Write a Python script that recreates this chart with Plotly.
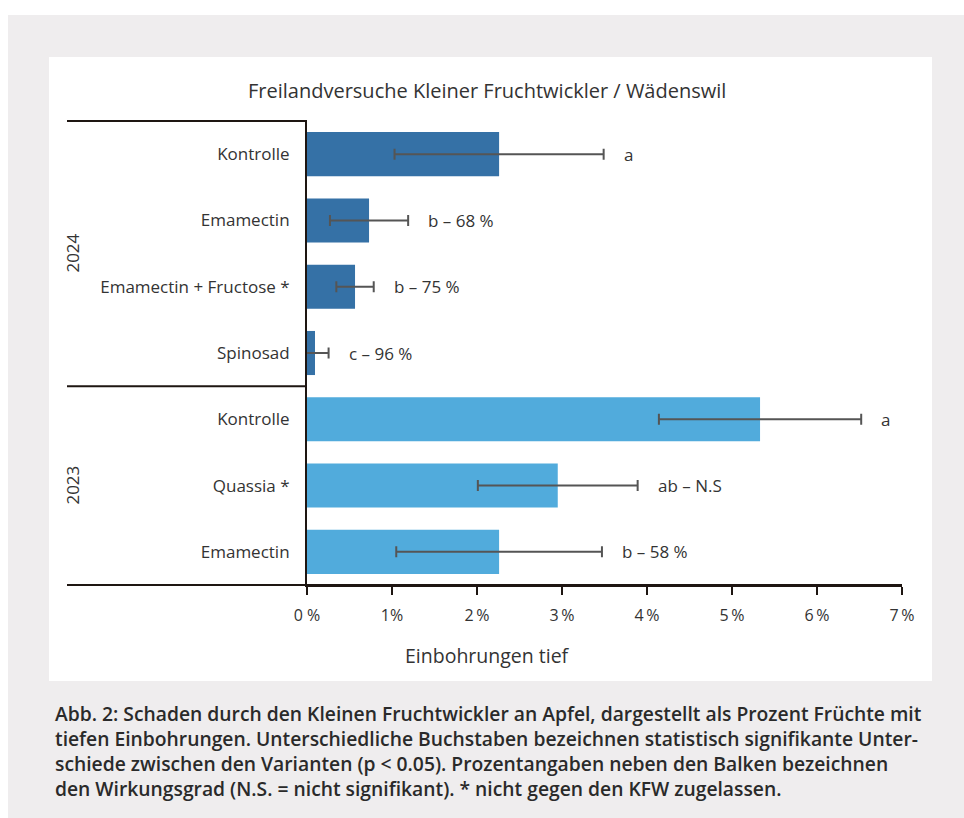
import plotly.graph_objects as go

# ---------------- data ----------------
years = ["2024", "2023"]
names_2024 = ["Kontrolle", "Emamectin", "Emamectin + Fructose *", "Spinosad"]
values_2024 = [2.26, 0.73, 0.565, 0.094]
errors_2024 = [1.23, 0.46, 0.22, 0.16]
labels_2024 = ["a", "b – 68 %", "b – 75 %", "c – 96 %"]

names_2023 = ["Kontrolle", "Quassia *", "Emamectin"]
values_2023 = [5.33, 2.95, 2.26]
errors_2023 = [1.19, 0.94, 1.21]
labels_2023 = ["a", "ab – N.S", "b – 58 %"]

x_ticks = [0, 1, 2, 3, 4, 5, 6, 7]
x_ticktext = ["0 %", "1%", "2\u2009%", "3\u2009%", "4\u2009%", "5\u2009%", "6\u2009%", "7\u2009%"]

title_text = "Freilandversuche Kleiner Fruchtwickler / Wädenswil"
x_title = "Einbohrungen tief"
caption_lines = [
    "Abb. 2: Schaden durch den Kleinen Fruchtwickler an Apfel, dargestellt als Prozent Früchte mit",
    "tiefen Einbohrungen. Unterschiedliche Buchstaben bezeichnen statistisch signifikante Unter-",
    "schiede zwischen den Varianten (p &lt; 0.05). Prozentangaben neben den Balken bezeichnen",
    "den Wirkungsgrad (N.S. = nicht signifikant). * nicht gegen den KFW zugelassen.",
]

# ---------------- layout geometry ----------------
W, H = 964, 818
PL, PR, PT, PB = 307, 902, 121, 585  # plot area in pixels


def px2x(px):
    return (px - PL) / (PR - PL)


def px2y(py):
    return (PB - py) / (PB - PT)


FONT = "Open Sans"
TXT = "#333333"
AXC = "#1e1612"
C2024 = "#3571a6"
C2023 = "#51abdc"
ERRC = "#555555"

keys_2024 = [f"2024|{n}" for n in names_2024]
keys_2023 = [f"2023|{n}" for n in names_2023]
all_keys = keys_2024 + keys_2023
all_names = names_2024 + names_2023

fig = go.Figure()
for keys, vals, errs, col in [
    (keys_2024, values_2024, errors_2024, C2024),
    (keys_2023, values_2023, errors_2023, C2023),
]:
    fig.add_trace(go.Bar(
        x=vals, y=keys, orientation="h", width=0.665,
        marker=dict(color=col, line=dict(width=0)),
        error_x=dict(type="data", array=errs, visible=True,
                     color=ERRC, thickness=2, width=5.5),
        showlegend=False, hoverinfo="skip",
    ))

annotations = []
# significance labels
for keys, vals, errs, labs in [
    (keys_2024, values_2024, errors_2024, labels_2024),
    (keys_2023, values_2023, errors_2023, labels_2023),
]:
    for k, v, e, t in zip(keys, vals, errs, labs):
        annotations.append(dict(
            x=v + e, y=k, xref="x", yref="y", text=t, showarrow=False,
            xanchor="left", yanchor="middle", xshift=18,
            font=dict(family=FONT, size=17, color=TXT)))

# year labels
n24 = len(names_2024)
n23 = len(names_2023)
for yr, centre in [("2024", (n24 - 1) / 2), ("2023", n24 + (n23 - 1) / 2)]:
    annotations.append(dict(
        x=px2x(73), y=centre, xref="paper", yref="y", text=yr, showarrow=False,
        textangle=-90, xanchor="center", yanchor="middle",
        font=dict(family=FONT, size=17, color=TXT)))

# title
annotations.append(dict(
    x=px2x(487), y=px2y(91), xref="paper", yref="paper", text=title_text,
    showarrow=False, xanchor="center", yanchor="middle",
    font=dict(family=FONT, size=20, color=TXT)))
# x-axis title
annotations.append(dict(
    x=px2x(487), y=px2y(655), xref="paper", yref="paper", text=x_title,
    showarrow=False, xanchor="center", yanchor="middle",
    font=dict(family=FONT, size=19.5, color=TXT)))
# caption
annotations.append(dict(
    x=px2x(53), y=px2y(751), xref="paper", yref="paper",
    text="<br>".join(caption_lines), showarrow=False, align="left",
    xanchor="left", yanchor="middle",
    font=dict(family=FONT, size=19.3, color="#2a2a2a", weight=600)))

shapes = [
    # grey frame
    dict(type="rect", xref="paper", yref="paper", layer="below",
         x0=px2x(8), x1=px2x(W + 2), y0=px2y(15), y1=px2y(H + 2),
         fillcolor="#efedee", line=dict(width=0)),
    # white panel
    dict(type="rect", xref="paper", yref="paper", layer="below",
         x0=px2x(49), x1=px2x(932), y0=px2y(57), y1=px2y(681),
         fillcolor="#ffffff", line=dict(width=0)),
    # top line of the label column
    dict(type="line", xref="paper", yref="paper", x0=px2x(67), x1=0, y0=1, y1=1,
         line=dict(color=AXC, width=2)),
    # separator between years
    dict(type="line", xref="paper", yref="y", x0=px2x(67), x1=0,
         y0=n24 - 0.5, y1=n24 - 0.5, line=dict(color=AXC, width=2)),
    # bottom line extension
    dict(type="line", xref="paper", yref="paper", x0=px2x(67), x1=1, y0=0, y1=0,
         line=dict(color=AXC, width=2)),
]

fig.update_layout(
    width=W, height=H,
    margin=dict(l=PL, r=W - PR, t=PT, b=H - PB, pad=0),
    paper_bgcolor="#ffffff", plot_bgcolor="#ffffff",
    barmode="overlay",
    annotations=annotations, shapes=shapes,
    font=dict(family=FONT, color=TXT),
)
fig.update_xaxes(
    range=[0, 7], tickvals=x_ticks, ticktext=x_ticktext,
    showgrid=False, zeroline=False, showline=True, linecolor=AXC, linewidth=2,
    ticks="outside", ticklen=8, tickwidth=2, tickcolor=AXC,
    ticklabelstandoff=7,
    tickfont=dict(family=FONT, size=16, color=TXT),
)
fig.update_yaxes(
    type="category", categoryorder="array", categoryarray=all_keys,
    range=[len(all_keys) - 0.5, -0.5],
    tickvals=all_keys, ticktext=all_names,
    showgrid=False, zeroline=False, showline=True, linecolor=AXC, linewidth=2,
    ticks="", ticklabelstandoff=12,
    tickfont=dict(family=FONT, size=17, color=TXT),
)

fig.write_html("out.html")
